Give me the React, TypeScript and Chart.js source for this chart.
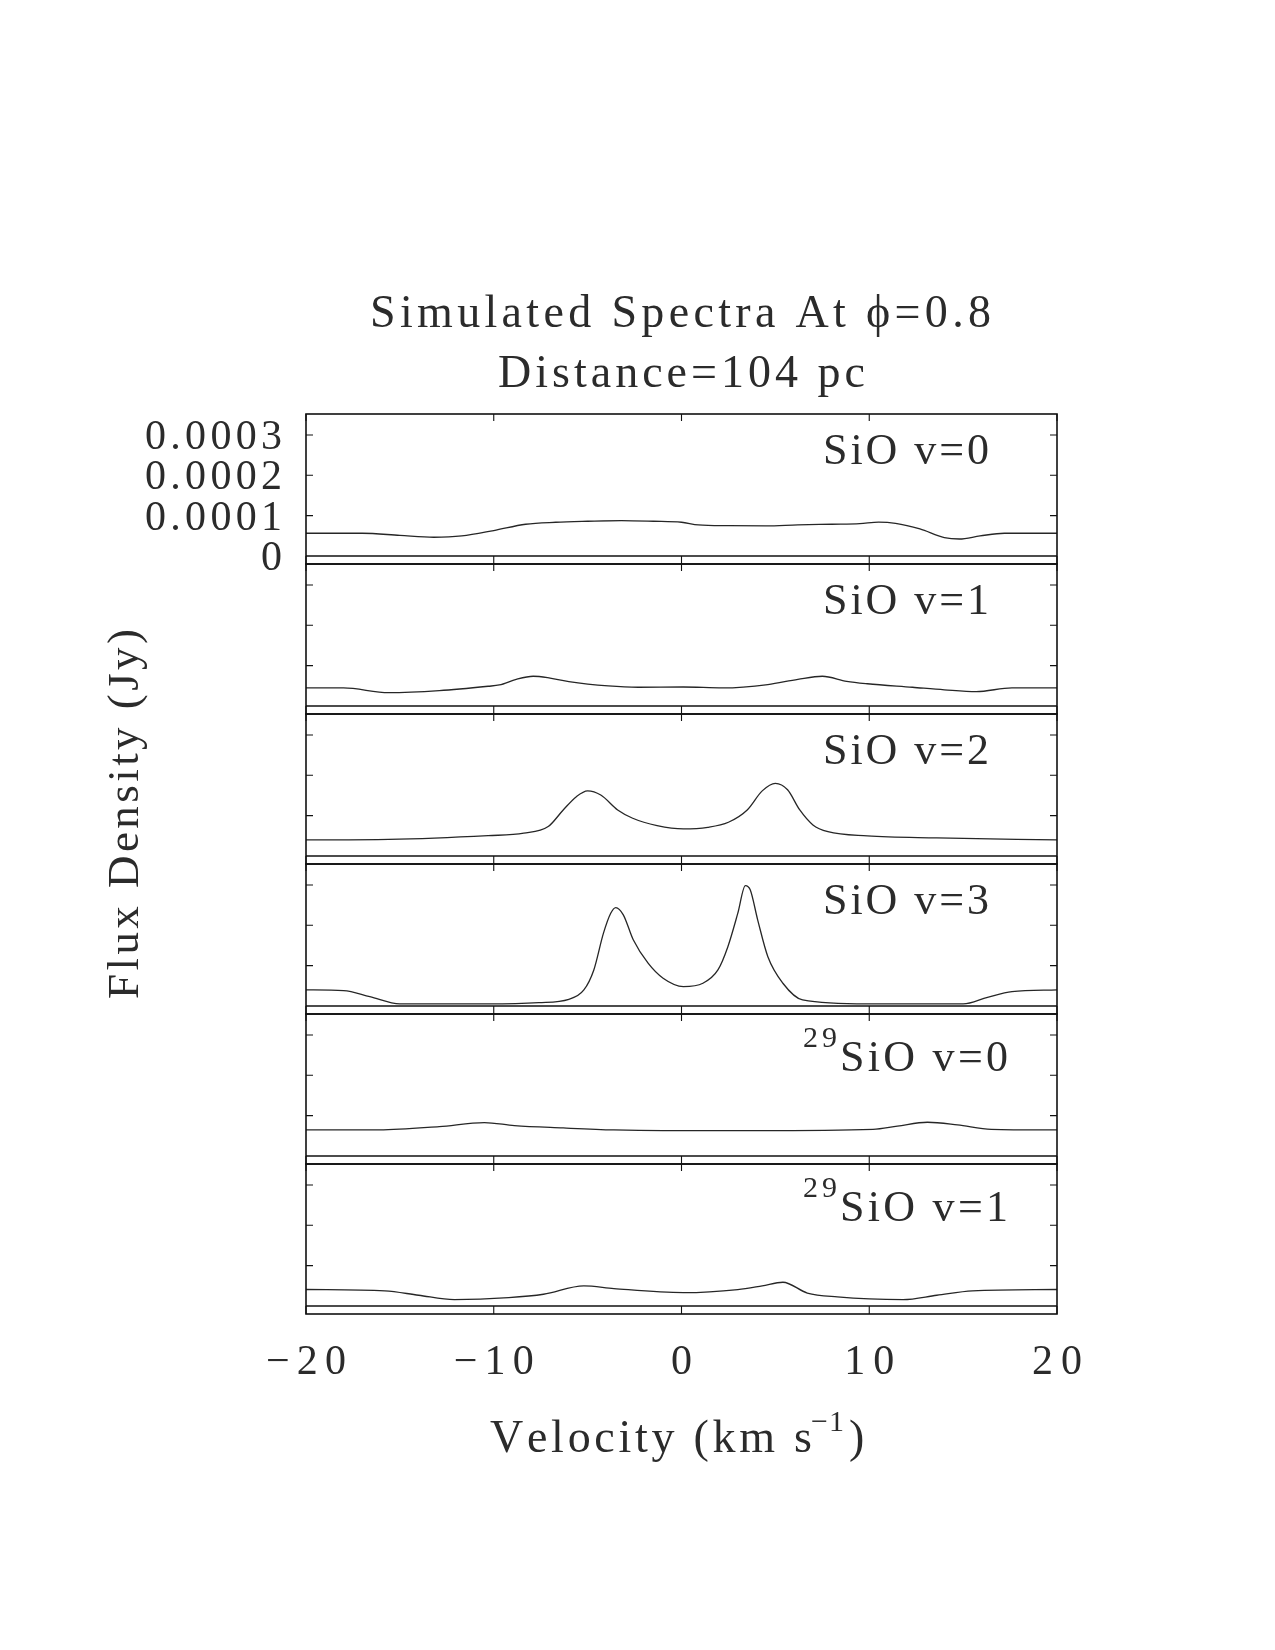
import { useEffect, useRef } from 'react';
import { Chart, registerables } from 'chart.js';

Chart.register(...registerables);

// ---------------- data (flux in units of 1e-4 Jy, velocity in km/s) ----------------
const PANEL_LABELS = ['SiO v=0', 'SiO v=1', 'SiO v=2', 'SiO v=3', 'SiO v=0', 'SiO v=1'];
const PANEL_ISOTOPES = ['', '', '', '', '29', '29'];

const X_TICKS = [-20, -10, 0, 10, 20];
const X_TICK_LABELS = ['\u221220', '\u221210', '0', '10', '20'];
const Y_TICKS = [0, 1, 2, 3];
const Y_TICK_LABELS = ['0', '0.0001', '0.0002', '0.0003'];

const velSiO0 = [-20, -17, -15, -13.2, -11.7, -10, -8.3, -6.7, -5, -3.2, -1.5, 0, 0.9, 2.5, 4.5, 6.2, 8, 9.5, 10.5, 11.4, 12.7, 14, 14.8, 15.9, 17.2, 20];
const fluxSiO0 = [0.563, 0.563, 0.51, 0.464, 0.496, 0.63, 0.786, 0.835, 0.86, 0.877, 0.86, 0.835, 0.77, 0.75, 0.744, 0.77, 0.786, 0.8, 0.84, 0.81, 0.67, 0.455, 0.42, 0.496, 0.563, 0.563];

const velSiO1 = [-20, -18, -15.6, -12.9, -10.3, -9.7, -8.8, -7.9, -7, -6, -3.9, -2.3, 0.1, 2.2, 4.6, 6.2, 7.5, 8.8, 9.9, 12.3, 14, 15.7, 17.6, 20];
const fluxSiO1 = [0.447, 0.447, 0.33, 0.38, 0.488, 0.52, 0.66, 0.736, 0.69, 0.603, 0.496, 0.463, 0.47, 0.447, 0.53, 0.66, 0.736, 0.61, 0.55, 0.463, 0.4, 0.355, 0.447, 0.447];

const velSiO2 = [-20, -15.6, -10.3, -8.4, -7.1, -6.3, -5.6, -5.0, -4.3, -3.4, -2.6, -1.3, 0.1, 1.4, 2.5, 3.5, 4.3, 5.0, 5.65, 6.3, 7.0, 7.8, 9.9, 13.6, 20];
const fluxSiO2 = [0.397, 0.41, 0.504, 0.563, 0.728, 1.14, 1.47, 1.613, 1.51, 1.14, 0.935, 0.752, 0.67, 0.71, 0.836, 1.14, 1.613, 1.8, 1.64, 1.14, 0.77, 0.6, 0.496, 0.447, 0.397];

const velSiO3 = [-20, -18, -16.6, -15, -12, -10.3, -7.6, -6, -5.2, -4.67, -4.16, -3.77, -3.5, -3.1, -2.57, -1.78, -0.98, 0.1, 1.14, 1.94, 2.47, 3.0, 3.4, 3.66, 4.06, 4.6, 5.4, 6.45, 9.9, 15, 16.3, 17.6, 20];
const fluxSiO3 = [0.397, 0.38, 0.23, 0.05, 0.05, 0.05, 0.082, 0.165, 0.397, 0.893, 1.8, 2.3, 2.44, 2.26, 1.64, 1.06, 0.687, 0.48, 0.563, 0.893, 1.47, 2.3, 2.985, 2.88, 2.13, 1.22, 0.563, 0.149, 0.05, 0.05, 0.215, 0.355, 0.397];

const vel29SiO0 = [-20, -16.1, -12.9, -10.5, -8.9, -6.3, -3.6, -1, 4, 10.2, 11.5, 13.1, 14.7, 16.5, 20];
const flux29SiO0 = [0.645, 0.645, 0.728, 0.827, 0.752, 0.694, 0.645, 0.628, 0.628, 0.66, 0.74, 0.835, 0.77, 0.66, 0.645];

const vel29SiO1 = [-20, -15.8, -14, -12.1, -9.2, -7.35, -5.2, -3.6, 0.1, 3, 4.3, 5.4, 6.7, 8.3, 11.8, 13.6, 15.5, 20];
const flux29SiO1 = [0.407, 0.374, 0.265, 0.158, 0.207, 0.29, 0.497, 0.43, 0.33, 0.407, 0.5, 0.588, 0.32, 0.224, 0.158, 0.265, 0.374, 0.407];

const SERIES_VEL = [velSiO0, velSiO1, velSiO2, velSiO3, vel29SiO0, vel29SiO1];
const SERIES_FLUX = [fluxSiO0, fluxSiO1, fluxSiO2, fluxSiO3, flux29SiO0, flux29SiO1];

const TITLE_1 = 'Simulated Spectra At \u03D5=0.8';
const TITLE_2 = 'Distance=104 pc';
const X_TITLE = 'Velocity (km s';
const X_TITLE_SUP = '\u22121';
const Y_TITLE = 'Flux Density (Jy)';

// ---------------- layout / style ----------------
const W = 1275;
const H = 1650;
const Y_MIN = -0.2;
const Y_MAX = 3.52;
const FONT = '"Liberation Serif", "Times New Roman", serif';
const INK = '#2b2b2b';

function spaced(
  ctx: CanvasRenderingContext2D,
  text: string,
  x: number,
  y: number,
  size: number,
  width: number,
  align: 'left' | 'center' | 'right'
) {
  ctx.font = `${size}px ${FONT}`;
  ctx.textAlign = 'left';
  ctx.textBaseline = 'alphabetic';
  const chars = Array.from(text);
  const ws = chars.map((c) => ctx.measureText(c).width);
  const natural = ws.reduce((a, b) => a + b, 0);
  const gap = chars.length > 1 && width > 0 ? (width - natural) / (chars.length - 1) : 0;
  const total = natural + gap * (chars.length - 1);
  let cx = align === 'left' ? x : align === 'center' ? x - total / 2 : x - total;
  chars.forEach((c, i) => {
    ctx.fillText(c, cx, y);
    cx += ws[i] + gap;
  });
  return total;
}

const framePlugin = {
  id: 'spectraFrames',
  afterDatasetsDraw(chart: any) {
    const ctx: CanvasRenderingContext2D = chart.ctx;
    const xs = chart.scales.x;
    const area = chart.chartArea;
    const left = area.left;
    const right = area.right;
    ctx.save();
    ctx.strokeStyle = '#111';
    ctx.fillStyle = INK;

    for (let k = 0; k < SERIES_VEL.length; k++) {
      const ys = chart.scales['y' + k];
      const top = ys.top;
      const bottom = ys.bottom;
      // frame
      ctx.lineWidth = 1.6;
      ctx.strokeRect(left, top, right - left, bottom - top);
      // zero line
      const y0 = ys.getPixelForValue(0);
      ctx.lineWidth = 1.4;
      ctx.beginPath();
      ctx.moveTo(left, y0);
      ctx.lineTo(right, y0);
      ctx.stroke();
      // ticks
      ctx.lineWidth = 1.1;
      ctx.beginPath();
      X_TICKS.forEach((v) => {
        const px = xs.getPixelForValue(v);
        ctx.moveTo(px, top);
        ctx.lineTo(px, top + 7);
        ctx.moveTo(px, bottom);
        ctx.lineTo(px, bottom - 8);
      });
      Y_TICKS.forEach((v) => {
        if (v === 0) return;
        const py = ys.getPixelForValue(v);
        ctx.moveTo(left, py);
        ctx.lineTo(left + 7, py);
        ctx.moveTo(right, py);
        ctx.lineTo(right - 7, py);
      });
      ctx.stroke();

      // panel label
      if (PANEL_ISOTOPES[k]) {
        spaced(ctx, PANEL_ISOTOPES[k], 803, top + 33, 30, 34, 'left');
        spaced(ctx, PANEL_LABELS[k], 840, top + 57, 44, 168, 'left');
      } else {
        spaced(ctx, PANEL_LABELS[k], 989, top + 50, 44, 166, 'right');
      }
    }

    // y tick labels (top panel only)
    const y0s = chart.scales.y0;
    Y_TICKS.forEach((v, i) => {
      const py = y0s.getPixelForValue(v);
      const lbl = Y_TICK_LABELS[i];
      spaced(ctx, lbl, 282, py + 14, 42, lbl.length > 1 ? 137 : 0, 'right');
    });

    // x tick labels
    const xw = [80, 80, 0, 50, 50];
    X_TICKS.forEach((v, i) => {
      const px = xs.getPixelForValue(v);
      spaced(ctx, X_TICK_LABELS[i], px, 1374, 42, xw[i], 'center');
    });

    // titles
    spaced(ctx, TITLE_1, 680.5, 327, 46, 621, 'center');
    spaced(ctx, TITLE_2, 681.5, 387, 46, 367, 'center');

    // x axis title
    spaced(ctx, X_TITLE, 490, 1452, 46, 322, 'left');
    spaced(ctx, X_TITLE_SUP, 811, 1431, 30, 33, 'left');
    spaced(ctx, ')', 849, 1452, 46, 0, 'left');

    // y axis title (rotated)
    ctx.translate(138, 814);
    ctx.rotate(-Math.PI / 2);
    spaced(ctx, Y_TITLE, 0, 0, 45, 370, 'center');
    ctx.restore();
  },
};

export default function App() {
  const ref = useRef<HTMLCanvasElement>(null);

  useEffect(() => {
    const canvas = ref.current;
    if (!canvas) return;
    const datasets = SERIES_VEL.map((vel, k) => ({
      label: (PANEL_ISOTOPES[k] ? PANEL_ISOTOPES[k] + ' ' : '') + PANEL_LABELS[k],
      data: vel.map((v, i) => ({ x: v, y: SERIES_FLUX[k][i] })),
      xAxisID: 'x',
      yAxisID: 'y' + k,
      borderColor: '#262626',
      borderWidth: 1.3,
      pointRadius: 0,
      fill: false,
      cubicInterpolationMode: 'monotone' as const,
    }));

    const scales: any = {
      x: { type: 'linear', min: -20, max: 20, display: false },
    };
    SERIES_VEL.forEach((_, k) => {
      scales['y' + k] = {
        type: 'linear',
        position: 'right',
        stack: 'panels',
        stackWeight: 1,
        min: Y_MIN,
        max: Y_MAX,
        display: false,
      };
    });

    const chart = new Chart(canvas, {
      type: 'line',
      data: { datasets },
      options: {
        responsive: false,
        animation: false,
        events: [],
        layout: { padding: { left: 306, top: 414, right: W - 1057, bottom: H - 1314 } },
        plugins: {
          legend: { display: false },
          tooltip: { enabled: false },
          title: { display: false },
        },
        scales,
      },
      plugins: [framePlugin],
    });
    return () => chart.destroy();
  }, []);

  return (
    <canvas
      ref={ref}
      width={W}
      height={H}
      style={{ position: 'absolute', left: 0, top: 0, width: W, height: H, background: '#fff' }}
    />
  );
}
